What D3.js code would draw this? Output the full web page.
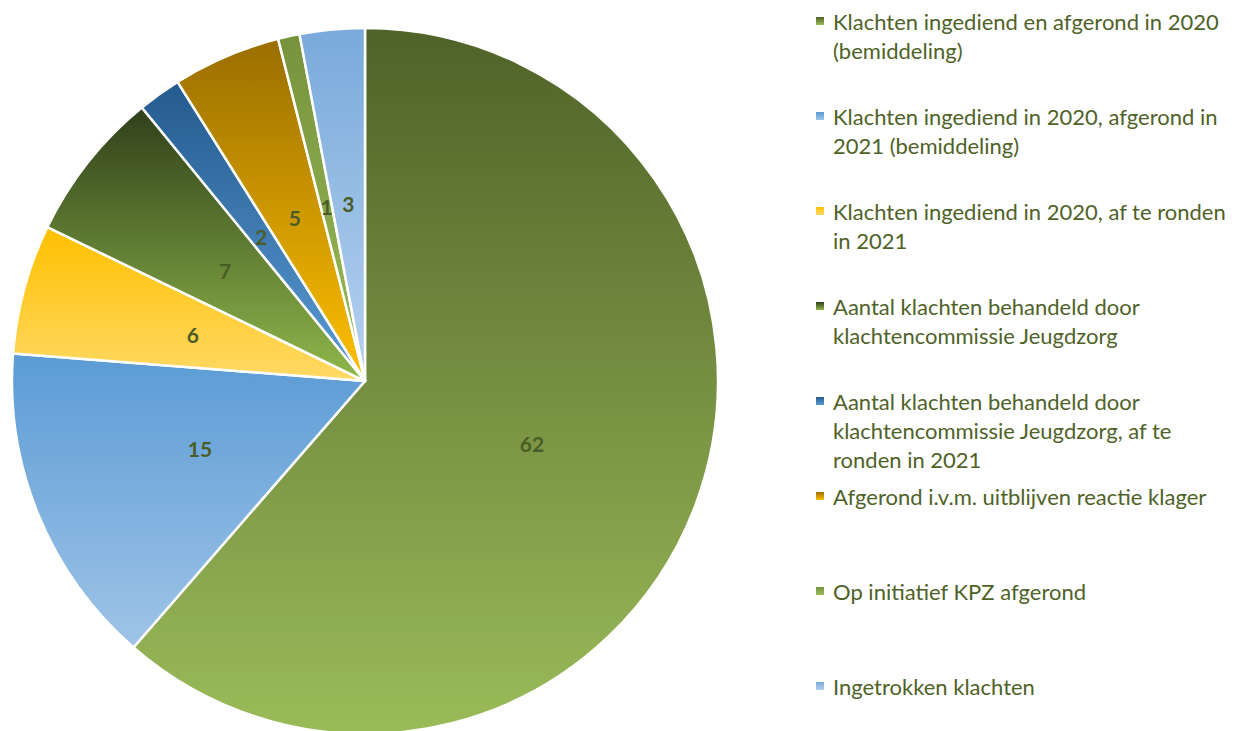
<!DOCTYPE html>
<html>
<head>
<meta charset="utf-8">
<script src="https://cdn.jsdelivr.net/npm/d3@7"></script>
<style>
  html, body { margin: 0; padding: 0; background: #ffffff; }
  svg { display: block; }
</style>
</head>
<body>
<svg id="chart" width="1243" height="731"></svg>
<script>
// ---- data ----
const categories = [
  "Klachten ingediend en afgerond in 2020 (bemiddeling)",
  "Klachten ingediend in 2020, afgerond in 2021 (bemiddeling)",
  "Klachten ingediend in 2020, af te ronden in 2021",
  "Aantal klachten behandeld door klachtencommissie Jeugdzorg",
  "Aantal klachten behandeld door klachtencommissie Jeugdzorg, af te ronden in 2021",
  "Afgerond i.v.m. uitblijven reactie klager",
  "Op initiatief KPZ afgerond",
  "Ingetrokken klachten"
];
const values = [62, 15, 6, 7, 2, 5, 1, 3];
const legendLines = [
  ["Klachten ingediend en afgerond in 2020", "(bemiddeling)"],
  ["Klachten ingediend in 2020, afgerond in", "2021 (bemiddeling)"],
  ["Klachten ingediend in 2020, af te ronden", "in 2021"],
  ["Aantal klachten behandeld door", "klachtencommissie Jeugdzorg"],
  ["Aantal klachten behandeld door", "klachtencommissie Jeugdzorg, af te", "ronden in 2021"],
  ["Afgerond i.v.m. uitblijven reactie klager"],
  ["Op initiatief KPZ afgerond"],
  ["Ingetrokken klachten"]
];
const colorTop = ["#4f6228", "#5b9bd5", "#ffc000", "#30401a", "#245b8e", "#9a6e00", "#76933c", "#79aadb"];
const colorBottom = ["#9bbb59", "#9fc4e7", "#ffd966", "#90b84c", "#5b9bd5", "#ffc000", "#9bbb59", "#b6d1ee"];

// ---- layout ----
const svg = d3.select("#chart");
const cx = 365, cy = 381, R = 353;
const textColor = "#4f6228";

const defs = svg.append("defs");
categories.forEach((c, i) => {
  const g = defs.append("linearGradient")
    .attr("id", "grad" + i)
    .attr("x1", 0).attr("y1", 0).attr("x2", 0).attr("y2", 1);
  g.append("stop").attr("offset", "0%").attr("stop-color", colorTop[i]);
  g.append("stop").attr("offset", "100%").attr("stop-color", colorBottom[i]);
});

const pie = d3.pie().sort(null).value(d => d)(values);
const arc = d3.arc().innerRadius(0).outerRadius(R);
const labelArc = d3.arc().innerRadius(R * 0.505).outerRadius(R * 0.505);

const gPie = svg.append("g").attr("transform", `translate(${cx},${cy})`);
gPie.selectAll("path.slice")
  .data(pie)
  .join("path")
  .attr("class", "slice")
  .attr("d", arc)
  .attr("fill", (d, i) => `url(#grad${i})`)
  .attr("stroke", "#ffffff")
  .attr("stroke-width", 2.5)
  .attr("stroke-linejoin", "round");

gPie.selectAll("text.lbl")
  .data(pie)
  .join("text")
  .attr("class", "lbl")
  .attr("transform", d => `translate(${labelArc.centroid(d)})`)
  .attr("text-anchor", "middle")
  .attr("dominant-baseline", "central")
  .attr("font-family", "Lato, 'Open Sans', sans-serif")
  .attr("font-weight", "bold")
  .attr("font-size", 21)
  .attr("fill", "#4b5d26")
  .text(d => d.data);

// ---- legend ----
const legX = 816, legY0 = 21, legStep = 95, lineH = 29;
const gLeg = svg.append("g");
legendLines.forEach((lines, i) => {
  const y = legY0 + i * legStep;
  gLeg.append("rect")
    .attr("x", legX).attr("y", y - 4)
    .attr("width", 8).attr("height", 8)
    .attr("fill", `url(#grad${i})`);
  const t = gLeg.append("text")
    .attr("x", legX + 17)
    .attr("y", y)
    .attr("font-family", "Lato, 'Open Sans', sans-serif")
    .attr("font-size", 22)
    .attr("fill", textColor);
  lines.forEach((ln, j) => {
    t.append("tspan")
      .attr("x", legX + 17)
      .attr("y", y + j * lineH)
      .attr("dominant-baseline", "central")
      .text(ln);
  });
});
</script>
</body>
</html>
